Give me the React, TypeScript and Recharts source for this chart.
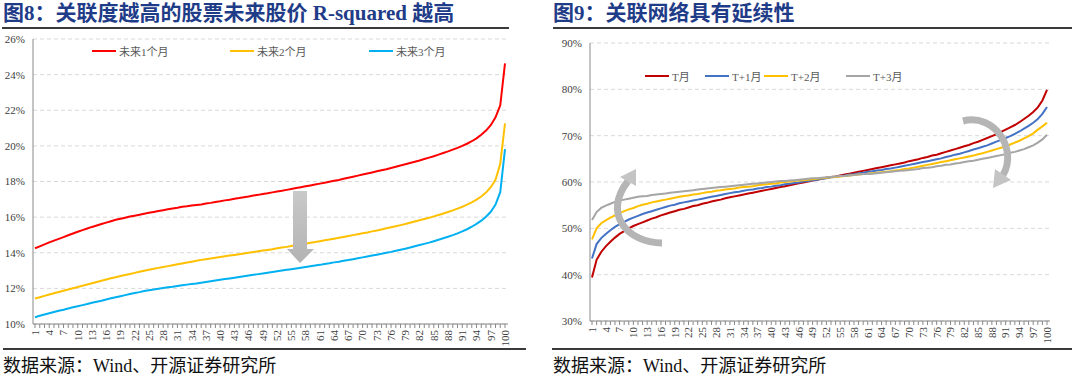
import React from 'react';
import { LineChart, Line, XAxis, YAxis, CartesianGrid } from 'recharts';

// ─── Data ──────────────────────────────────────────────
const categories = Array.from({ length: 100 }, (_, i) => String(i + 1));

// 图8 (values in %)
const future1m = [
  14.25, 14.36, 14.47, 14.58, 14.68, 14.78, 14.88, 14.98, 15.08, 15.18,
  15.27, 15.36, 15.45, 15.53, 15.61, 15.69, 15.77, 15.85, 15.91, 15.97,
  16.03, 16.08, 16.13, 16.19, 16.24, 16.29, 16.34, 16.39, 16.44, 16.49,
  16.53, 16.58, 16.61, 16.65, 16.68, 16.71, 16.76, 16.8, 16.85, 16.89,
  16.94, 16.98, 17.03, 17.07, 17.12, 17.16, 17.21, 17.25, 17.3, 17.34,
  17.39, 17.44, 17.48, 17.53, 17.58, 17.63, 17.68, 17.73, 17.78, 17.83,
  17.88, 17.93, 17.99, 18.04, 18.09, 18.15, 18.21, 18.27, 18.33, 18.39,
  18.45, 18.51, 18.57, 18.63, 18.69, 18.76, 18.83, 18.9, 18.97, 19.04,
  19.11, 19.18, 19.26, 19.34, 19.42, 19.51, 19.6, 19.69, 19.79, 19.89,
  20.0, 20.12, 20.26, 20.42, 20.62, 20.86, 21.16, 21.6, 22.28, 24.63,
];
const future2m = [
  11.43, 11.5, 11.58, 11.66, 11.73, 11.8, 11.87, 11.94, 12.01, 12.08,
  12.15, 12.22, 12.29, 12.36, 12.43, 12.5, 12.57, 12.63, 12.69, 12.75,
  12.81, 12.87, 12.93, 12.99, 13.05, 13.1, 13.15, 13.2, 13.25, 13.3,
  13.35, 13.4, 13.45, 13.5, 13.55, 13.6, 13.64, 13.68, 13.72, 13.76,
  13.8, 13.84, 13.88, 13.92, 13.96, 14.0, 14.04, 14.08, 14.12, 14.16,
  14.2, 14.25, 14.29, 14.33, 14.38, 14.42, 14.47, 14.51, 14.56, 14.6,
  14.65, 14.7, 14.74, 14.79, 14.84, 14.89, 14.94, 14.99, 15.04, 15.09,
  15.14, 15.2, 15.25, 15.31, 15.37, 15.43, 15.49, 15.55, 15.61, 15.68,
  15.75, 15.82, 15.89, 15.96, 16.04, 16.12, 16.2, 16.29, 16.38, 16.48,
  16.58, 16.7, 16.83, 16.98, 17.16, 17.38, 17.68, 18.1, 19.0, 21.26,
];
const future3m = [
  10.38, 10.46, 10.53, 10.6, 10.67, 10.74, 10.8, 10.87, 10.94, 11.0,
  11.06, 11.12, 11.19, 11.25, 11.31, 11.38, 11.44, 11.5, 11.56, 11.62,
  11.68, 11.74, 11.79, 11.85, 11.9, 11.94, 11.98, 12.02, 12.06, 12.09,
  12.13, 12.17, 12.21, 12.25, 12.28, 12.32, 12.36, 12.4, 12.44, 12.48,
  12.52, 12.56, 12.6, 12.64, 12.68, 12.72, 12.76, 12.8, 12.84, 12.88,
  12.92, 12.96, 13.0, 13.04, 13.08, 13.12, 13.16, 13.2, 13.24, 13.28,
  13.32, 13.37, 13.41, 13.46, 13.5, 13.55, 13.59, 13.64, 13.69, 13.74,
  13.79, 13.84, 13.89, 13.94, 14.0, 14.05, 14.11, 14.17, 14.23, 14.29,
  14.36, 14.43, 14.5, 14.57, 14.65, 14.73, 14.81, 14.9, 14.99, 15.09,
  15.2, 15.32, 15.46, 15.62, 15.8, 16.02, 16.3, 16.7, 17.4, 19.82,
];

// 图9 (values in %)
const monthT = [
  39.4, 43.2, 44.9, 46.1, 47.1, 48.0, 48.8, 49.4, 50.0, 50.5,
  50.9, 51.3, 51.7, 52.1, 52.4, 52.8, 53.1, 53.4, 53.7, 54.0,
  54.2, 54.5, 54.8, 55.0, 55.3, 55.5, 55.8, 56.0, 56.2, 56.5,
  56.7, 56.9, 57.1, 57.3, 57.5, 57.7, 57.9, 58.1, 58.3, 58.5,
  58.7, 58.9, 59.1, 59.3, 59.5, 59.7, 59.9, 60.1, 60.3, 60.5,
  60.7, 60.9, 61.1, 61.2, 61.4, 61.6, 61.8, 62.0, 62.2, 62.4,
  62.6, 62.8, 63.0, 63.2, 63.4, 63.6, 63.8, 64.0, 64.2, 64.5,
  64.7, 64.9, 65.2, 65.4, 65.7, 65.9, 66.2, 66.5, 66.8, 67.1,
  67.4, 67.7, 68.0, 68.4, 68.7, 69.1, 69.5, 69.9, 70.3, 70.8,
  71.3, 71.8, 72.3, 72.9, 73.6, 74.3, 75.1, 76.1, 77.6, 79.9,
];
const monthT1 = [
  43.5, 46.6, 47.9, 48.8, 49.6, 50.3, 50.9, 51.4, 51.9, 52.3,
  52.7, 53.1, 53.4, 53.7, 54.0, 54.3, 54.6, 54.9, 55.1, 55.4,
  55.6, 55.8, 56.0, 56.2, 56.4, 56.6, 56.8, 57.0, 57.2, 57.4,
  57.6, 57.8, 57.9, 58.1, 58.3, 58.4, 58.6, 58.7, 58.9, 59.0,
  59.2, 59.3, 59.5, 59.6, 59.8, 59.9, 60.1, 60.2, 60.4, 60.5,
  60.7, 60.8, 61.0, 61.1, 61.3, 61.4, 61.6, 61.7, 61.9, 62.0,
  62.2, 62.3, 62.5, 62.6, 62.8, 62.9, 63.1, 63.3, 63.5, 63.7,
  63.9, 64.1, 64.3, 64.5, 64.7, 64.9, 65.1, 65.4, 65.6, 65.9,
  66.1, 66.4, 66.7, 67.0, 67.3, 67.6, 67.9, 68.3, 68.7, 69.1,
  69.5, 69.9, 70.4, 70.9, 71.5, 72.1, 72.8, 73.6, 74.7, 76.2,
];
const monthT2 = [
  47.6, 50.0, 51.1, 51.7, 52.3, 52.8, 53.3, 53.7, 54.1, 54.4,
  54.8, 55.1, 55.3, 55.6, 55.8, 56.0, 56.2, 56.4, 56.6, 56.8,
  57.0, 57.1, 57.3, 57.4, 57.6, 57.8, 57.9, 58.1, 58.2, 58.4,
  58.5, 58.6, 58.8, 58.9, 59.0, 59.1, 59.3, 59.4, 59.5, 59.6,
  59.7, 59.9, 60.0, 60.1, 60.2, 60.3, 60.4, 60.5, 60.6, 60.7,
  60.8, 60.9, 61.0, 61.1, 61.2, 61.3, 61.4, 61.5, 61.6, 61.7,
  61.8, 61.9, 62.0, 62.1, 62.2, 62.3, 62.5, 62.6, 62.8, 62.9,
  63.1, 63.3, 63.5, 63.7, 63.9, 64.1, 64.3, 64.5, 64.7, 64.9,
  65.1, 65.3, 65.5, 65.7, 66.0, 66.2, 66.5, 66.8, 67.1, 67.4,
  67.7, 68.1, 68.5, 68.9, 69.4, 69.9, 70.5, 71.3, 72.0, 72.8,
];
const monthT3 = [
  51.8, 53.5, 54.4, 54.9, 55.3, 55.7, 56.0, 56.2, 56.4, 56.6,
  56.8, 56.9, 57.0, 57.2, 57.3, 57.4, 57.5, 57.7, 57.8, 57.9,
  58.0, 58.1, 58.2, 58.4, 58.5, 58.6, 58.7, 58.8, 58.9, 59.0,
  59.1, 59.2, 59.3, 59.4, 59.5, 59.6, 59.7, 59.8, 59.9, 60.0,
  60.1, 60.2, 60.2, 60.3, 60.4, 60.5, 60.6, 60.7, 60.8, 60.8,
  60.9, 61.0, 61.1, 61.2, 61.3, 61.3, 61.4, 61.5, 61.6, 61.7,
  61.7, 61.8, 61.9, 62.0, 62.1, 62.2, 62.3, 62.4, 62.5, 62.6,
  62.7, 62.8, 63.0, 63.1, 63.2, 63.4, 63.5, 63.7, 63.8, 64.0,
  64.1, 64.3, 64.5, 64.6, 64.8, 65.0, 65.2, 65.4, 65.6, 65.8,
  66.0, 66.3, 66.5, 66.8, 67.1, 67.5, 67.9, 68.5, 69.2, 70.2,
];

const leftTicks = [10, 12, 14, 16, 18, 20, 22, 24, 26];
const rightTicks = [30, 40, 50, 60, 70, 80, 90];

const leftSeries = [
  { key: 'm1', name: '未来1个月', color: '#ff0000', values: future1m },
  { key: 'm2', name: '未来2个月', color: '#ffc000', values: future2m },
  { key: 'm3', name: '未来3个月', color: '#00b0f0', values: future3m },
];
const rightSeries = [
  { key: 't0', name: 'T月', color: '#c00000', values: monthT },
  { key: 't1', name: 'T+1月', color: '#4472c4', values: monthT1 },
  { key: 't2', name: 'T+2月', color: '#ffc000', values: monthT2 },
  { key: 't3', name: 'T+3月', color: '#a5a5a5', values: monthT3 },
];

const buildRows = (series: { key: string; values: number[] }[]) =>
  categories.map((c, i) => {
    const row: Record<string, string | number> = { x: c };
    series.forEach((s) => (row[s.key] = s.values[i]));
    return row;
  });

const leftRows = buildRows(leftSeries);
const rightRows = buildRows(rightSeries);

// ─── Styles ────────────────────────────────────────────
const SERIF = '"Liberation Serif", "Times New Roman", "Noto Sans CJK SC", serif';
const AXIS = '#898989';
const GRID = '#d9d9d9';
const LABEL = '#404040';

const XTick = (props: any) => {
  const { x, y, payload } = props;
  if ((Number(payload.value) - 1) % 3 !== 0) return null;
  return (
    <text
      x={x}
      y={y}
      dy="0.35em"
      transform={`rotate(-90, ${x}, ${y})`}
      textAnchor="end"
      fontSize={11}
      fontFamily={SERIF}
      fill={LABEL}
    >
      {payload.value}
    </text>
  );
};

const Legend: React.FC<{
  items: { name: string; color: string }[];
  left: number[];
  top: number;
}> = ({ items, left, top }) => (
  <>
    {items.map((s, i) => (
      <div
        key={s.name}
        style={{ position: 'absolute', left: left[i], top, display: 'flex', alignItems: 'center', height: 14 }}
      >
        <div style={{ width: 24, height: 2, background: s.color }} />
        <span style={{ marginLeft: 3, fontSize: 11, fontFamily: SERIF, color: '#595959', whiteSpace: 'nowrap' }}>
          {s.name}
        </span>
      </div>
    ))}
  </>
);

const Panel: React.FC<{
  left: number;
  width: number;
  rows: any[];
  series: { key: string; name: string; color: string }[];
  ticks: number[];
  margin: { top: number; right: number; bottom: number; left: number };
  yWidth: number;
}> = ({ left, width, rows, series, ticks, margin, yWidth }) => (
  <div style={{ position: 'absolute', left, top: 0 }}>
    <LineChart width={width} height={378} data={rows} margin={margin}>
      <CartesianGrid vertical={false} stroke={GRID} strokeDasharray="4 3" />
      <XAxis
        dataKey="x"
        interval={0}
        tick={<XTick />}
        tickSize={4}
        tickLine={{ stroke: AXIS }}
        axisLine={{ stroke: AXIS }}
        height={24}
        padding={{ left: 2, right: 3 }}
      />
      <YAxis
        width={yWidth}
        domain={[ticks[0], ticks[ticks.length - 1]]}
        ticks={ticks}
        tickFormatter={(v: number) => `${v}%`}
        tickLine={false}
        axisLine={{ stroke: AXIS }}
        tick={{ fontSize: 11, fontFamily: SERIF, fill: LABEL }}
      />
      {series.map((s) => (
        <Line
          key={s.key}
          type="linear"
          dataKey={s.key}
          name={s.name}
          stroke={s.color}
          strokeWidth={2}
          dot={false}
          isAnimationActive={false}
        />
      ))}
    </LineChart>
  </div>
);

const titleStyle: React.CSSProperties = {
  position: 'absolute',
  top: 2,
  fontSize: 21,
  lineHeight: '22px',
  fontWeight: 'bold',
  fontFamily: SERIF,
  color: '#1f3c88',
  whiteSpace: 'nowrap',
};
const sourceStyle: React.CSSProperties = {
  position: 'absolute',
  top: 356,
  fontSize: 18,
  lineHeight: '20px',
  fontFamily: SERIF,
  color: '#111',
  whiteSpace: 'nowrap',
};
const rule = (left: number, top: number, width: number): React.CSSProperties => ({
  position: 'absolute',
  left,
  top,
  width,
  height: 1.5,
  background: '#3a3a3a',
});

export default function App() {
  return (
    <div style={{ position: 'absolute', left: 0, top: 0, width: 1080, height: 378, background: '#fff', overflow: 'hidden' }}>
      <div style={{ ...titleStyle, left: 3 }}>图8：关联度越高的股票未来股价 R-squared 越高</div>
      <div style={{ ...titleStyle, left: 553 }}>图9：关联网络具有延续性</div>
      <div style={rule(2, 27, 507)} />
      <div style={rule(553, 27, 519)} />

      <Panel
        left={0}
        width={530}
        rows={leftRows}
        series={leftSeries}
        ticks={leftTicks}
        margin={{ top: 39, right: 22, bottom: 30, left: 0 }}
        yWidth={33}
      />
      <Panel
        left={540}
        width={530}
        rows={rightRows}
        series={rightSeries}
        ticks={rightTicks}
        margin={{ top: 43, right: 20, bottom: 33, left: 0 }}
        yWidth={50}
      />

      <Legend items={leftSeries} left={[92, 230, 369]} top={44} />
      <Legend items={rightSeries} left={[645, 705, 764, 846]} top={69} />

      {/* annotation arrows */}
      <svg width={1080} height={378} style={{ position: 'absolute', left: 0, top: 0, pointerEvents: 'none' }}>
        <defs>
          <linearGradient id="arrowGrad" x1="0" y1="0" x2="0" y2="1">
            <stop offset="0%" stopColor="#c9c9c9" />
            <stop offset="100%" stopColor="#b3b3b3" />
          </linearGradient>
        </defs>
        <polygon
          points="293,191 307,191 307,249 314,249 300,263 287,249 293,249"
          fill="url(#arrowGrad)"
        />
        <path d="M662,243 C628,243 602,214 628,181" fill="none" stroke="#b5b5b5" strokeWidth={7} />
        <polygon points="636,169 620,177 636,186" fill="#c4c4c4" />
        <path d="M963,121 C995,113 1018,150 1003,175" fill="none" stroke="#b5b5b5" strokeWidth={7} />
        <polygon points="993,188 1011,180 995,169" fill="#c4c4c4" />
      </svg>

      <div style={rule(3, 348, 523)} />
      <div style={rule(552, 348, 520)} />
      <div style={{ ...sourceStyle, left: 3 }}>数据来源：Wind、开源证券研究所</div>
      <div style={{ ...sourceStyle, left: 553 }}>数据来源：Wind、开源证券研究所</div>
    </div>
  );
}
